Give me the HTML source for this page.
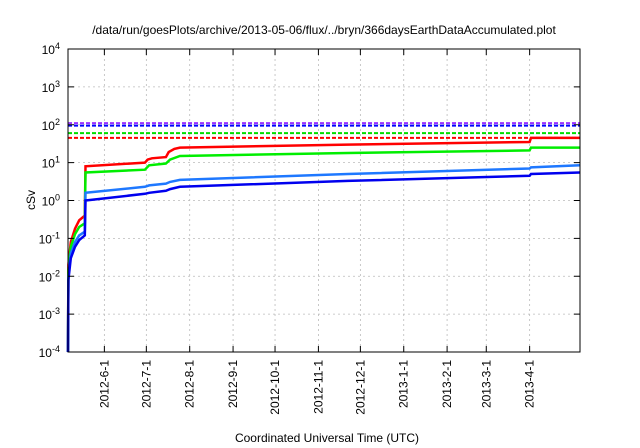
<!DOCTYPE html>
<html><head><meta charset="utf-8"><style>
body{margin:0;background:#fff;}
svg{display:block;font-family:"Liberation Sans",sans-serif;}
</style></head><body>
<svg id="c" width="640" height="448">
<text x="324" y="34" font-size="12" text-anchor="middle">/data/run/goesPlots/archive/2013-05-06/flux/../bryn/366daysEarthDataAccumulated.plot</text>
<text x="327" y="442" font-size="12" text-anchor="middle">Coordinated Universal Time (UTC)</text>
<text transform="translate(35,200) rotate(-90)" font-size="12" text-anchor="middle">cSv</text>
<g id="grid"></g><g id="series"></g><g id="axes"></g>
</svg>
<script>
const monthLabels=["2012-6-1","2012-7-1","2012-8-1","2012-9-1","2012-10-1","2012-11-1","2012-12-1","2013-1-1","2013-2-1","2013-3-1","2013-4-1"];
const monthDays=[26,56,87,118,148,179,209,240,271,299,330];
const yExps=[-4,-3,-2,-1,0,1,2,3,4];
const limitValues=[110,95,60,45];
const limitColors=["#9933ff","#0000ff","#00dd00","#ff0000"];
const redDays=[0,0.3,2,5,8,12,12.5,55,57,60,70,72,76,80,200,330,331,366];
const redVals=[0.0001,0.02,0.08,0.18,0.3,0.4,8,10,12,13,14,19,23,25,30,35,45,45];
const greenDays=[0,0.3,2,5,8,12,12.5,55,58,70,73,80,200,330,331,366];
const greenVals=[0.0001,0.015,0.06,0.13,0.2,0.25,5.5,6.5,8.5,9.5,12,15,18,21,25,25];
const lblueDays=[0,0.3,2,5,8,12,12.5,55,58,70,73,80,200,330,331,366];
const lblueVals=[0.0001,0.01,0.04,0.08,0.12,0.15,1.6,2.3,2.5,2.8,3.1,3.5,5,7,7.5,8.5];
const blueDays=[0,0.3,2,5,8,12,12.5,55,58,70,73,80,200,330,331,366];
const blueVals=[0.0001,0.008,0.03,0.06,0.09,0.12,1.0,1.5,1.6,1.8,2.0,2.3,3.3,4.5,5,5.5];
const L=68,R=580,T=49,B=352;
const xs=d=>L+d*(R-L)/366;
const ys=v=>B-(Math.log10(v)+4)*(B-T)/8;
const NS="http://www.w3.org/2000/svg";
function mk(t,a,p){const e=document.createElementNS(NS,t);for(const k in a)e.setAttribute(k,a[k]);p.appendChild(e);return e;}
const grid=document.getElementById('grid'),ax=document.getElementById('axes'),se=document.getElementById('series');
yExps.forEach(e=>{const y=ys(Math.pow(10,e));
 if(e>-4&&e<4){const g=mk('line',{x1:L,x2:R,y1:y,y2:y,stroke:'#bbb','stroke-dasharray':'2,3','stroke-width':0.8},grid);
 
 }
 mk('line',{x1:L,x2:L+6,y1:y,y2:y,stroke:'#000'},ax);mk('line',{x1:R,x2:R-6,y1:y,y2:y,stroke:'#000'},ax);
 const t=mk('text',{x:L-8,y:y+5,'font-size':12,'text-anchor':'end'},ax);
 
 
 t.innerHTML='10<tspan dy="-5" font-size="9">'+e+'</tspan>';});
monthDays.forEach((d,i)=>{const x=xs(d);
 const g=mk('line',{x1:x,x2:x,y1:T,y2:B,stroke:'#bbb','stroke-dasharray':'2,3','stroke-width':0.8},grid);
 
 
 mk('line',{x1:x,x2:x,y1:B,y2:B-6,stroke:'#000'},ax);mk('line',{x1:x,x2:x,y1:T,y2:T+6,stroke:'#000'},ax);
 const t=mk('text',{transform:`translate(${x+4},${B+8}) rotate(-90)`,'font-size':12,'text-anchor':'end'},ax);
 
 
 t.textContent=monthLabels[i];});
const f=mk('rect',{x:L,y:T,width:R-L,height:B-T,fill:'none',stroke:'#000','stroke-width':1},ax);


limitValues.forEach((v,i)=>{const y=ys(v);
 const l=mk('line',{x1:L,x2:R,y1:y,y2:y,stroke:limitColors[i],'stroke-width':2,'stroke-dasharray':'4,2'},se);
 
 });
[[redDays,redVals,'#ff0000','red-series'],[greenDays,greenVals,'#00ee00','green-series'],[lblueDays,lblueVals,'#1e78ff','light-blue-series'],[blueDays,blueVals,'#0000ee','blue-series']].forEach(s=>{
 const pts=s[0].map((d,i)=>xs(d).toFixed(1)+','+ys(s[1][i]).toFixed(1)).join(' ');
 const p=mk('polyline',{points:pts,fill:'none',stroke:s[2],'stroke-width':2.5},se);
 
 });
</script>
</body></html>
